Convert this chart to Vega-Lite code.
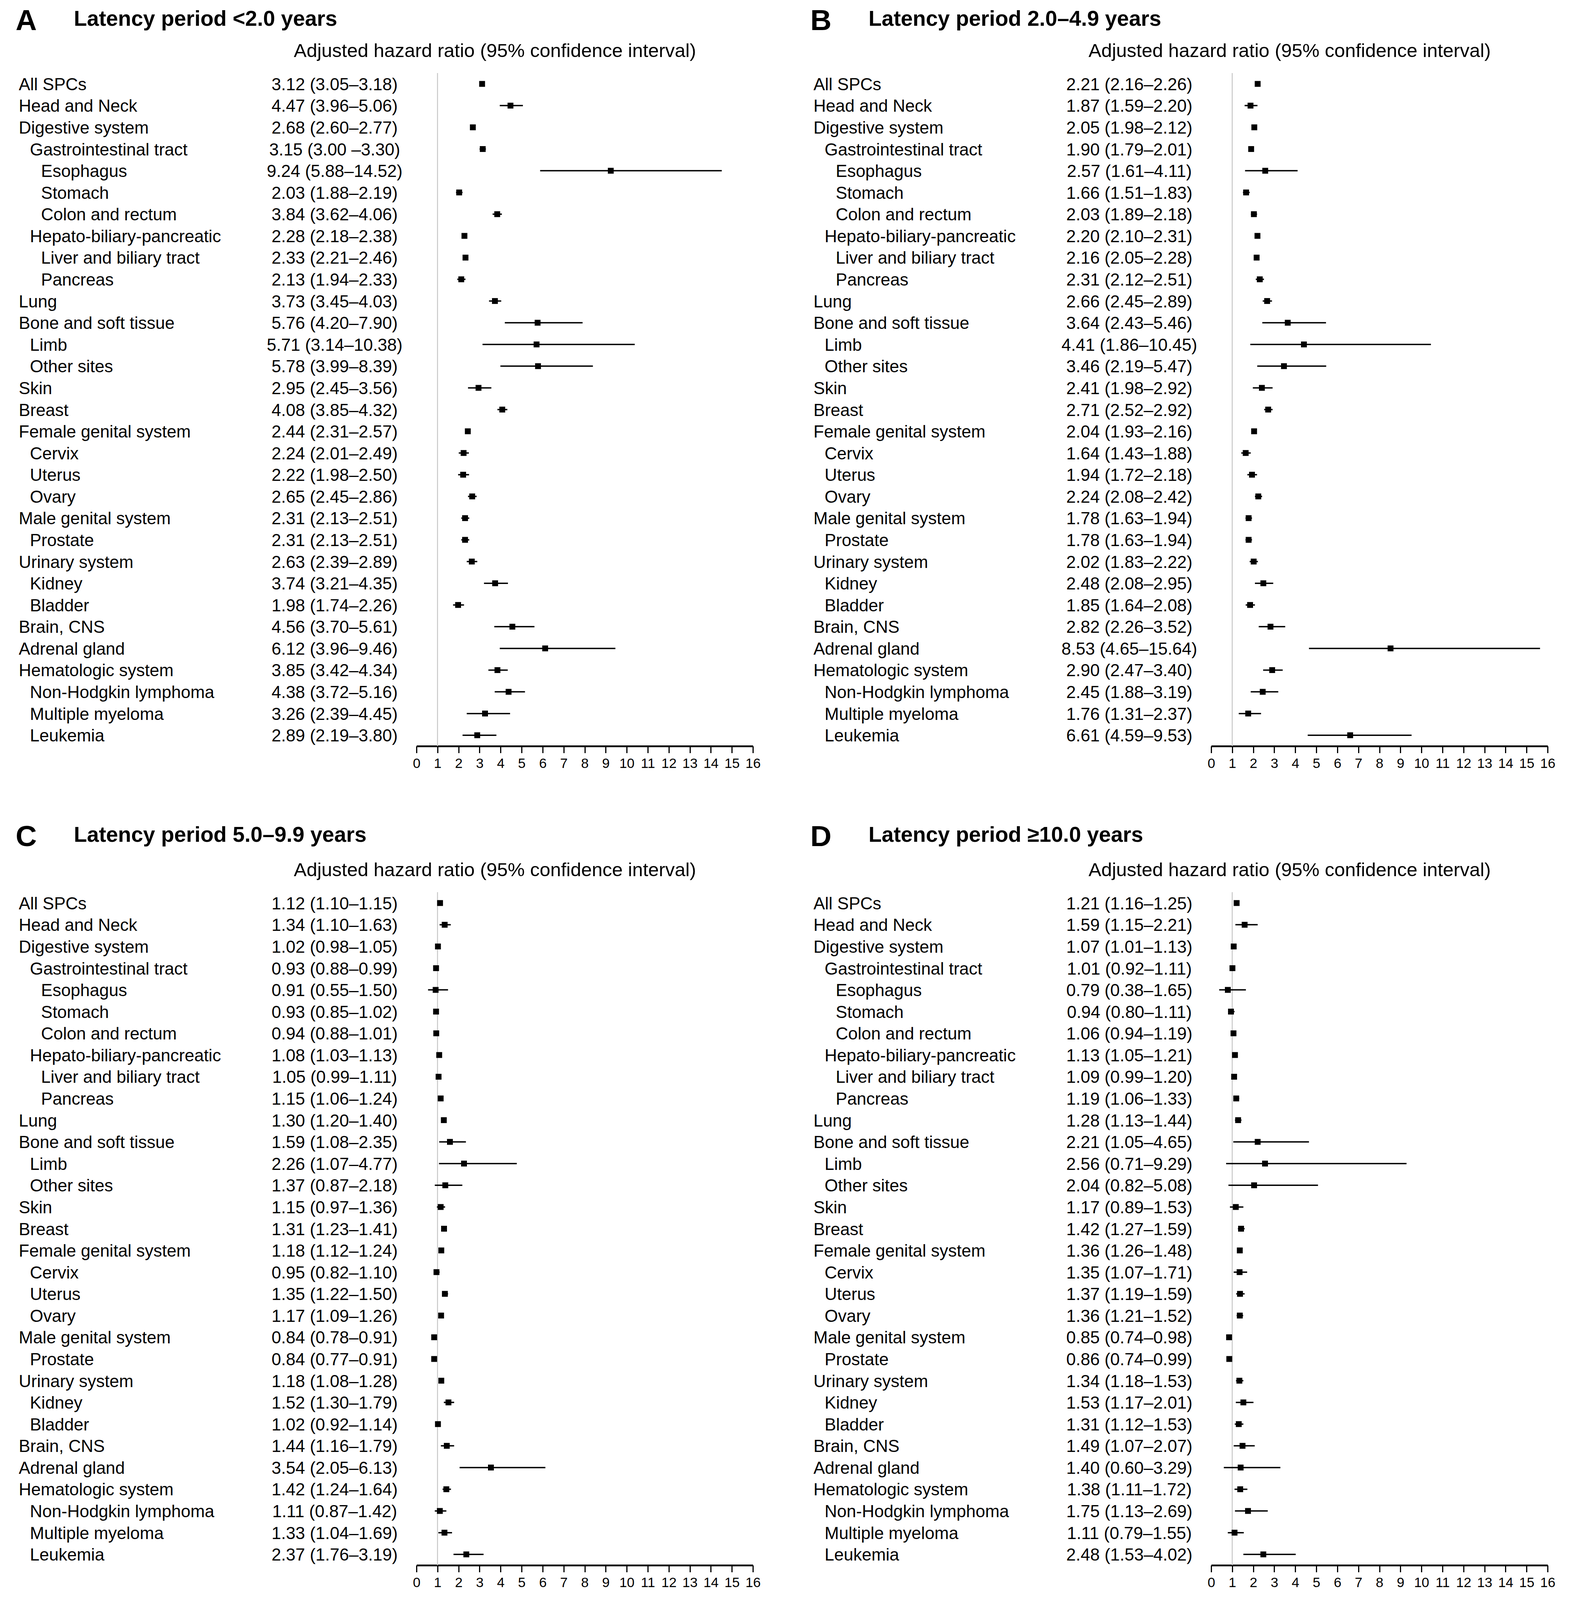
{
  "$schema": "https://vega.github.io/schema/vega-lite/v6.json",
  "background": "white",
  "padding": {"left": 40, "top": 17, "right": 10, "bottom": 10},
  "config": {
    "view": {"stroke": null},
    "font": "Liberation Sans",
    "title": {"color": "black", "font": "Liberation Sans"},
    "text": {"color": "black", "font": "Liberation Sans"},
    "axis": {"values": [0,1,2,3,4,5,6,7,8,9,10,11,12,13,14,15,16], "title": null, "grid": false, "tickSize": 17.5, "tickWidth": 3, "tickColor": "black", "domainColor": "black", "domainWidth": 4.5, "labelFontSize": 35, "labelColor": "black", "labelPadding": 10, "labelFlush": false, "labelOverlap": false, "format": "d"}
  },
  "datasets": {
    "rows": [
      {"row": 1, "label": "All SPCs", "level": 0},
      {"row": 2, "label": "Head and Neck", "level": 0},
      {"row": 3, "label": "Digestive system", "level": 0},
      {"row": 4, "label": "Gastrointestinal tract", "level": 1},
      {"row": 5, "label": "Esophagus", "level": 2},
      {"row": 6, "label": "Stomach", "level": 2},
      {"row": 7, "label": "Colon and rectum", "level": 2},
      {"row": 8, "label": "Hepato-biliary-pancreatic", "level": 1},
      {"row": 9, "label": "Liver and biliary tract", "level": 2},
      {"row": 10, "label": "Pancreas", "level": 2},
      {"row": 11, "label": "Lung", "level": 0},
      {"row": 12, "label": "Bone and soft tissue", "level": 0},
      {"row": 13, "label": "Limb", "level": 1},
      {"row": 14, "label": "Other sites", "level": 1},
      {"row": 15, "label": "Skin", "level": 0},
      {"row": 16, "label": "Breast", "level": 0},
      {"row": 17, "label": "Female genital system", "level": 0},
      {"row": 18, "label": "Cervix", "level": 1},
      {"row": 19, "label": "Uterus", "level": 1},
      {"row": 20, "label": "Ovary", "level": 1},
      {"row": 21, "label": "Male genital system", "level": 0},
      {"row": 22, "label": "Prostate", "level": 1},
      {"row": 23, "label": "Urinary system", "level": 0},
      {"row": 24, "label": "Kidney", "level": 1},
      {"row": 25, "label": "Bladder", "level": 1},
      {"row": 26, "label": "Brain, CNS", "level": 0},
      {"row": 27, "label": "Adrenal gland", "level": 0},
      {"row": 28, "label": "Hematologic system", "level": 0},
      {"row": 29, "label": "Non-Hodgkin lymphoma", "level": 1},
      {"row": 30, "label": "Multiple myeloma", "level": 1},
      {"row": 31, "label": "Leukemia", "level": 1}
    ],
    "ref": [{"ref": 1}],
    "A": [
      {"row": 1, "hr": 3.12, "lo": 3.05, "hi": 3.18, "ci": "3.12 (3.05–3.18)"},
      {"row": 2, "hr": 4.47, "lo": 3.96, "hi": 5.06, "ci": "4.47 (3.96–5.06)"},
      {"row": 3, "hr": 2.68, "lo": 2.60, "hi": 2.77, "ci": "2.68 (2.60–2.77)"},
      {"row": 4, "hr": 3.15, "lo": 3.00, "hi": 3.30, "ci": "3.15 (3.00 –3.30)"},
      {"row": 5, "hr": 9.24, "lo": 5.88, "hi": 14.52, "ci": "9.24 (5.88–14.52)"},
      {"row": 6, "hr": 2.03, "lo": 1.88, "hi": 2.19, "ci": "2.03 (1.88–2.19)"},
      {"row": 7, "hr": 3.84, "lo": 3.62, "hi": 4.06, "ci": "3.84 (3.62–4.06)"},
      {"row": 8, "hr": 2.28, "lo": 2.18, "hi": 2.38, "ci": "2.28 (2.18–2.38)"},
      {"row": 9, "hr": 2.33, "lo": 2.21, "hi": 2.46, "ci": "2.33 (2.21–2.46)"},
      {"row": 10, "hr": 2.13, "lo": 1.94, "hi": 2.33, "ci": "2.13 (1.94–2.33)"},
      {"row": 11, "hr": 3.73, "lo": 3.45, "hi": 4.03, "ci": "3.73 (3.45–4.03)"},
      {"row": 12, "hr": 5.76, "lo": 4.20, "hi": 7.90, "ci": "5.76 (4.20–7.90)"},
      {"row": 13, "hr": 5.71, "lo": 3.14, "hi": 10.38, "ci": "5.71 (3.14–10.38)"},
      {"row": 14, "hr": 5.78, "lo": 3.99, "hi": 8.39, "ci": "5.78 (3.99–8.39)"},
      {"row": 15, "hr": 2.95, "lo": 2.45, "hi": 3.56, "ci": "2.95 (2.45–3.56)"},
      {"row": 16, "hr": 4.08, "lo": 3.85, "hi": 4.32, "ci": "4.08 (3.85–4.32)"},
      {"row": 17, "hr": 2.44, "lo": 2.31, "hi": 2.57, "ci": "2.44 (2.31–2.57)"},
      {"row": 18, "hr": 2.24, "lo": 2.01, "hi": 2.49, "ci": "2.24 (2.01–2.49)"},
      {"row": 19, "hr": 2.22, "lo": 1.98, "hi": 2.50, "ci": "2.22 (1.98–2.50)"},
      {"row": 20, "hr": 2.65, "lo": 2.45, "hi": 2.86, "ci": "2.65 (2.45–2.86)"},
      {"row": 21, "hr": 2.31, "lo": 2.13, "hi": 2.51, "ci": "2.31 (2.13–2.51)"},
      {"row": 22, "hr": 2.31, "lo": 2.13, "hi": 2.51, "ci": "2.31 (2.13–2.51)"},
      {"row": 23, "hr": 2.63, "lo": 2.39, "hi": 2.89, "ci": "2.63 (2.39–2.89)"},
      {"row": 24, "hr": 3.74, "lo": 3.21, "hi": 4.35, "ci": "3.74 (3.21–4.35)"},
      {"row": 25, "hr": 1.98, "lo": 1.74, "hi": 2.26, "ci": "1.98 (1.74–2.26)"},
      {"row": 26, "hr": 4.56, "lo": 3.70, "hi": 5.61, "ci": "4.56 (3.70–5.61)"},
      {"row": 27, "hr": 6.12, "lo": 3.96, "hi": 9.46, "ci": "6.12 (3.96–9.46)"},
      {"row": 28, "hr": 3.85, "lo": 3.42, "hi": 4.34, "ci": "3.85 (3.42–4.34)"},
      {"row": 29, "hr": 4.38, "lo": 3.72, "hi": 5.16, "ci": "4.38 (3.72–5.16)"},
      {"row": 30, "hr": 3.26, "lo": 2.39, "hi": 4.45, "ci": "3.26 (2.39–4.45)"},
      {"row": 31, "hr": 2.89, "lo": 2.19, "hi": 3.80, "ci": "2.89 (2.19–3.80)"}
    ],
    "B": [
      {"row": 1, "hr": 2.21, "lo": 2.16, "hi": 2.26, "ci": "2.21 (2.16–2.26)"},
      {"row": 2, "hr": 1.87, "lo": 1.59, "hi": 2.20, "ci": "1.87 (1.59–2.20)"},
      {"row": 3, "hr": 2.05, "lo": 1.98, "hi": 2.12, "ci": "2.05 (1.98–2.12)"},
      {"row": 4, "hr": 1.90, "lo": 1.79, "hi": 2.01, "ci": "1.90 (1.79–2.01)"},
      {"row": 5, "hr": 2.57, "lo": 1.61, "hi": 4.11, "ci": "2.57 (1.61–4.11)"},
      {"row": 6, "hr": 1.66, "lo": 1.51, "hi": 1.83, "ci": "1.66 (1.51–1.83)"},
      {"row": 7, "hr": 2.03, "lo": 1.89, "hi": 2.18, "ci": "2.03 (1.89–2.18)"},
      {"row": 8, "hr": 2.20, "lo": 2.10, "hi": 2.31, "ci": "2.20 (2.10–2.31)"},
      {"row": 9, "hr": 2.16, "lo": 2.05, "hi": 2.28, "ci": "2.16 (2.05–2.28)"},
      {"row": 10, "hr": 2.31, "lo": 2.12, "hi": 2.51, "ci": "2.31 (2.12–2.51)"},
      {"row": 11, "hr": 2.66, "lo": 2.45, "hi": 2.89, "ci": "2.66 (2.45–2.89)"},
      {"row": 12, "hr": 3.64, "lo": 2.43, "hi": 5.46, "ci": "3.64 (2.43–5.46)"},
      {"row": 13, "hr": 4.41, "lo": 1.86, "hi": 10.45, "ci": "4.41 (1.86–10.45)"},
      {"row": 14, "hr": 3.46, "lo": 2.19, "hi": 5.47, "ci": "3.46 (2.19–5.47)"},
      {"row": 15, "hr": 2.41, "lo": 1.98, "hi": 2.92, "ci": "2.41 (1.98–2.92)"},
      {"row": 16, "hr": 2.71, "lo": 2.52, "hi": 2.92, "ci": "2.71 (2.52–2.92)"},
      {"row": 17, "hr": 2.04, "lo": 1.93, "hi": 2.16, "ci": "2.04 (1.93–2.16)"},
      {"row": 18, "hr": 1.64, "lo": 1.43, "hi": 1.88, "ci": "1.64 (1.43–1.88)"},
      {"row": 19, "hr": 1.94, "lo": 1.72, "hi": 2.18, "ci": "1.94 (1.72–2.18)"},
      {"row": 20, "hr": 2.24, "lo": 2.08, "hi": 2.42, "ci": "2.24 (2.08–2.42)"},
      {"row": 21, "hr": 1.78, "lo": 1.63, "hi": 1.94, "ci": "1.78 (1.63–1.94)"},
      {"row": 22, "hr": 1.78, "lo": 1.63, "hi": 1.94, "ci": "1.78 (1.63–1.94)"},
      {"row": 23, "hr": 2.02, "lo": 1.83, "hi": 2.22, "ci": "2.02 (1.83–2.22)"},
      {"row": 24, "hr": 2.48, "lo": 2.08, "hi": 2.95, "ci": "2.48 (2.08–2.95)"},
      {"row": 25, "hr": 1.85, "lo": 1.64, "hi": 2.08, "ci": "1.85 (1.64–2.08)"},
      {"row": 26, "hr": 2.82, "lo": 2.26, "hi": 3.52, "ci": "2.82 (2.26–3.52)"},
      {"row": 27, "hr": 8.53, "lo": 4.65, "hi": 15.64, "ci": "8.53 (4.65–15.64)"},
      {"row": 28, "hr": 2.90, "lo": 2.47, "hi": 3.40, "ci": "2.90 (2.47–3.40)"},
      {"row": 29, "hr": 2.45, "lo": 1.88, "hi": 3.19, "ci": "2.45 (1.88–3.19)"},
      {"row": 30, "hr": 1.76, "lo": 1.31, "hi": 2.37, "ci": "1.76 (1.31–2.37)"},
      {"row": 31, "hr": 6.61, "lo": 4.59, "hi": 9.53, "ci": "6.61 (4.59–9.53)"}
    ],
    "C": [
      {"row": 1, "hr": 1.12, "lo": 1.10, "hi": 1.15, "ci": "1.12 (1.10–1.15)"},
      {"row": 2, "hr": 1.34, "lo": 1.10, "hi": 1.63, "ci": "1.34 (1.10–1.63)"},
      {"row": 3, "hr": 1.02, "lo": 0.98, "hi": 1.05, "ci": "1.02 (0.98–1.05)"},
      {"row": 4, "hr": 0.93, "lo": 0.88, "hi": 0.99, "ci": "0.93 (0.88–0.99)"},
      {"row": 5, "hr": 0.91, "lo": 0.55, "hi": 1.50, "ci": "0.91 (0.55–1.50)"},
      {"row": 6, "hr": 0.93, "lo": 0.85, "hi": 1.02, "ci": "0.93 (0.85–1.02)"},
      {"row": 7, "hr": 0.94, "lo": 0.88, "hi": 1.01, "ci": "0.94 (0.88–1.01)"},
      {"row": 8, "hr": 1.08, "lo": 1.03, "hi": 1.13, "ci": "1.08 (1.03–1.13)"},
      {"row": 9, "hr": 1.05, "lo": 0.99, "hi": 1.11, "ci": "1.05 (0.99–1.11)"},
      {"row": 10, "hr": 1.15, "lo": 1.06, "hi": 1.24, "ci": "1.15 (1.06–1.24)"},
      {"row": 11, "hr": 1.30, "lo": 1.20, "hi": 1.40, "ci": "1.30 (1.20–1.40)"},
      {"row": 12, "hr": 1.59, "lo": 1.08, "hi": 2.35, "ci": "1.59 (1.08–2.35)"},
      {"row": 13, "hr": 2.26, "lo": 1.07, "hi": 4.77, "ci": "2.26 (1.07–4.77)"},
      {"row": 14, "hr": 1.37, "lo": 0.87, "hi": 2.18, "ci": "1.37 (0.87–2.18)"},
      {"row": 15, "hr": 1.15, "lo": 0.97, "hi": 1.36, "ci": "1.15 (0.97–1.36)"},
      {"row": 16, "hr": 1.31, "lo": 1.23, "hi": 1.41, "ci": "1.31 (1.23–1.41)"},
      {"row": 17, "hr": 1.18, "lo": 1.12, "hi": 1.24, "ci": "1.18 (1.12–1.24)"},
      {"row": 18, "hr": 0.95, "lo": 0.82, "hi": 1.10, "ci": "0.95 (0.82–1.10)"},
      {"row": 19, "hr": 1.35, "lo": 1.22, "hi": 1.50, "ci": "1.35 (1.22–1.50)"},
      {"row": 20, "hr": 1.17, "lo": 1.09, "hi": 1.26, "ci": "1.17 (1.09–1.26)"},
      {"row": 21, "hr": 0.84, "lo": 0.78, "hi": 0.91, "ci": "0.84 (0.78–0.91)"},
      {"row": 22, "hr": 0.84, "lo": 0.77, "hi": 0.91, "ci": "0.84 (0.77–0.91)"},
      {"row": 23, "hr": 1.18, "lo": 1.08, "hi": 1.28, "ci": "1.18 (1.08–1.28)"},
      {"row": 24, "hr": 1.52, "lo": 1.30, "hi": 1.79, "ci": "1.52 (1.30–1.79)"},
      {"row": 25, "hr": 1.02, "lo": 0.92, "hi": 1.14, "ci": "1.02 (0.92–1.14)"},
      {"row": 26, "hr": 1.44, "lo": 1.16, "hi": 1.79, "ci": "1.44 (1.16–1.79)"},
      {"row": 27, "hr": 3.54, "lo": 2.05, "hi": 6.13, "ci": "3.54 (2.05–6.13)"},
      {"row": 28, "hr": 1.42, "lo": 1.24, "hi": 1.64, "ci": "1.42 (1.24–1.64)"},
      {"row": 29, "hr": 1.11, "lo": 0.87, "hi": 1.42, "ci": "1.11 (0.87–1.42)"},
      {"row": 30, "hr": 1.33, "lo": 1.04, "hi": 1.69, "ci": "1.33 (1.04–1.69)"},
      {"row": 31, "hr": 2.37, "lo": 1.76, "hi": 3.19, "ci": "2.37 (1.76–3.19)"}
    ],
    "D": [
      {"row": 1, "hr": 1.21, "lo": 1.16, "hi": 1.25, "ci": "1.21 (1.16–1.25)"},
      {"row": 2, "hr": 1.59, "lo": 1.15, "hi": 2.21, "ci": "1.59 (1.15–2.21)"},
      {"row": 3, "hr": 1.07, "lo": 1.01, "hi": 1.13, "ci": "1.07 (1.01–1.13)"},
      {"row": 4, "hr": 1.01, "lo": 0.92, "hi": 1.11, "ci": "1.01 (0.92–1.11)"},
      {"row": 5, "hr": 0.79, "lo": 0.38, "hi": 1.65, "ci": "0.79 (0.38–1.65)"},
      {"row": 6, "hr": 0.94, "lo": 0.80, "hi": 1.11, "ci": "0.94 (0.80–1.11)"},
      {"row": 7, "hr": 1.06, "lo": 0.94, "hi": 1.19, "ci": "1.06 (0.94–1.19)"},
      {"row": 8, "hr": 1.13, "lo": 1.05, "hi": 1.21, "ci": "1.13 (1.05–1.21)"},
      {"row": 9, "hr": 1.09, "lo": 0.99, "hi": 1.20, "ci": "1.09 (0.99–1.20)"},
      {"row": 10, "hr": 1.19, "lo": 1.06, "hi": 1.33, "ci": "1.19 (1.06–1.33)"},
      {"row": 11, "hr": 1.28, "lo": 1.13, "hi": 1.44, "ci": "1.28 (1.13–1.44)"},
      {"row": 12, "hr": 2.21, "lo": 1.05, "hi": 4.65, "ci": "2.21 (1.05–4.65)"},
      {"row": 13, "hr": 2.56, "lo": 0.71, "hi": 9.29, "ci": "2.56 (0.71–9.29)"},
      {"row": 14, "hr": 2.04, "lo": 0.82, "hi": 5.08, "ci": "2.04 (0.82–5.08)"},
      {"row": 15, "hr": 1.17, "lo": 0.89, "hi": 1.53, "ci": "1.17 (0.89–1.53)"},
      {"row": 16, "hr": 1.42, "lo": 1.27, "hi": 1.59, "ci": "1.42 (1.27–1.59)"},
      {"row": 17, "hr": 1.36, "lo": 1.26, "hi": 1.48, "ci": "1.36 (1.26–1.48)"},
      {"row": 18, "hr": 1.35, "lo": 1.07, "hi": 1.71, "ci": "1.35 (1.07–1.71)"},
      {"row": 19, "hr": 1.37, "lo": 1.19, "hi": 1.59, "ci": "1.37 (1.19–1.59)"},
      {"row": 20, "hr": 1.36, "lo": 1.21, "hi": 1.52, "ci": "1.36 (1.21–1.52)"},
      {"row": 21, "hr": 0.85, "lo": 0.74, "hi": 0.98, "ci": "0.85 (0.74–0.98)"},
      {"row": 22, "hr": 0.86, "lo": 0.74, "hi": 0.99, "ci": "0.86 (0.74–0.99)"},
      {"row": 23, "hr": 1.34, "lo": 1.18, "hi": 1.53, "ci": "1.34 (1.18–1.53)"},
      {"row": 24, "hr": 1.53, "lo": 1.17, "hi": 2.01, "ci": "1.53 (1.17–2.01)"},
      {"row": 25, "hr": 1.31, "lo": 1.12, "hi": 1.53, "ci": "1.31 (1.12–1.53)"},
      {"row": 26, "hr": 1.49, "lo": 1.07, "hi": 2.07, "ci": "1.49 (1.07–2.07)"},
      {"row": 27, "hr": 1.40, "lo": 0.60, "hi": 3.29, "ci": "1.40 (0.60–3.29)"},
      {"row": 28, "hr": 1.38, "lo": 1.11, "hi": 1.72, "ci": "1.38 (1.11–1.72)"},
      {"row": 29, "hr": 1.75, "lo": 1.13, "hi": 2.69, "ci": "1.75 (1.13–2.69)"},
      {"row": 30, "hr": 1.11, "lo": 0.79, "hi": 1.55, "ci": "1.11 (0.79–1.55)"},
      {"row": 31, "hr": 2.48, "lo": 1.53, "hi": 4.02, "ci": "2.48 (1.53–4.02)"}
    ]
  },
  "columns": 6,
  "align": "each",
  "bounds": "flush",
  "spacing": {"row": 374, "column": 155},
  "concat": [
    {
      "width": 599, "height": 1723,
      "data": {"name": "rows"},
      "title": {"text": "A", "fontSize": 75, "fontWeight": "bold", "anchor": "start", "frame": "group", "dx": -8, "offset": 94},
      "mark": {"type": "text", "align": "left", "baseline": "middle", "fontSize": 44, "dy": 3},
      "encoding": {
        "x": {"field": "level", "type": "quantitative", "scale": {"domain": [0, 21], "nice": false, "zero": false}, "axis": null},
        "y": {"field": "row", "type": "ordinal", "axis": null},
        "text": {"field": "label"}
      }
    },
    {
      "width": 109, "height": 1723,
      "data": {"name": "A"},
      "title": {"text": "Latency period <2.0 years", "fontSize": 55, "fontWeight": "bold", "anchor": "start", "frame": "group", "dx": -613, "offset": 109.5},
      "mark": {"type": "text", "align": "center", "baseline": "middle", "fontSize": 44, "dy": 3},
      "encoding": {"y": {"field": "row", "type": "ordinal", "axis": null}, "text": {"field": "ci"}}
    },
    {
      "width": 861, "height": 1723,
      "title": {"text": "Adjusted hazard ratio (95% confidence interval)", "fontSize": 49, "fontWeight": "normal", "anchor": "start", "frame": "group", "dx": -314, "offset": 30},
      "layer": [
        {"data": {"name": "ref"}, "mark": {"type": "rule", "color": "#c8c8c8", "strokeWidth": 2.5}, "encoding": {"x": {"field": "ref", "type": "quantitative"}}},
        {"data": {"name": "A"}, "mark": {"type": "rule", "color": "black", "strokeWidth": 3.5}, "encoding": {"x": {"field": "lo", "type": "quantitative"}, "x2": {"field": "hi"}, "y": {"field": "row", "type": "ordinal", "axis": null}}},
        {"data": {"name": "A"}, "mark": {"type": "square", "size": 225, "filled": true, "color": "black", "opacity": 1}, "encoding": {"x": {"field": "hr", "type": "quantitative"}, "y": {"field": "row", "type": "ordinal", "axis": null}}}
      ],
      "encoding": {"x": {"type": "quantitative", "scale": {"domain": [0, 16], "nice": false, "zero": false}}}
    },
    {
      "width": 599, "height": 1723,
      "data": {"name": "rows"},
      "title": {"text": "B", "fontSize": 75, "fontWeight": "bold", "anchor": "start", "frame": "group", "dx": -8, "offset": 94},
      "mark": {"type": "text", "align": "left", "baseline": "middle", "fontSize": 44, "dy": 3},
      "encoding": {
        "x": {"field": "level", "type": "quantitative", "scale": {"domain": [0, 21], "nice": false, "zero": false}, "axis": null},
        "y": {"field": "row", "type": "ordinal", "axis": null},
        "text": {"field": "label"}
      }
    },
    {
      "width": 109, "height": 1723,
      "data": {"name": "B"},
      "title": {"text": "Latency period 2.0–4.9 years", "fontSize": 55, "fontWeight": "bold", "anchor": "start", "frame": "group", "dx": -613, "offset": 109.5},
      "mark": {"type": "text", "align": "center", "baseline": "middle", "fontSize": 44, "dy": 3},
      "encoding": {"y": {"field": "row", "type": "ordinal", "axis": null}, "text": {"field": "ci"}}
    },
    {
      "width": 861, "height": 1723,
      "title": {"text": "Adjusted hazard ratio (95% confidence interval)", "fontSize": 49, "fontWeight": "normal", "anchor": "start", "frame": "group", "dx": -314, "offset": 30},
      "layer": [
        {"data": {"name": "ref"}, "mark": {"type": "rule", "color": "#c8c8c8", "strokeWidth": 2.5}, "encoding": {"x": {"field": "ref", "type": "quantitative"}}},
        {"data": {"name": "B"}, "mark": {"type": "rule", "color": "black", "strokeWidth": 3.5}, "encoding": {"x": {"field": "lo", "type": "quantitative"}, "x2": {"field": "hi"}, "y": {"field": "row", "type": "ordinal", "axis": null}}},
        {"data": {"name": "B"}, "mark": {"type": "square", "size": 225, "filled": true, "color": "black", "opacity": 1}, "encoding": {"x": {"field": "hr", "type": "quantitative"}, "y": {"field": "row", "type": "ordinal", "axis": null}}}
      ],
      "encoding": {"x": {"type": "quantitative", "scale": {"domain": [0, 16], "nice": false, "zero": false}}}
    },
    {
      "width": 599, "height": 1723,
      "data": {"name": "rows"},
      "title": {"text": "C", "fontSize": 75, "fontWeight": "bold", "anchor": "start", "frame": "group", "dx": -8, "offset": 102},
      "mark": {"type": "text", "align": "left", "baseline": "middle", "fontSize": 44, "dy": 3},
      "encoding": {
        "x": {"field": "level", "type": "quantitative", "scale": {"domain": [0, 21], "nice": false, "zero": false}, "axis": null},
        "y": {"field": "row", "type": "ordinal", "axis": null},
        "text": {"field": "label"}
      }
    },
    {
      "width": 109, "height": 1723,
      "data": {"name": "C"},
      "title": {"text": "Latency period 5.0–9.9 years", "fontSize": 55, "fontWeight": "bold", "anchor": "start", "frame": "group", "dx": -613, "offset": 117.5},
      "mark": {"type": "text", "align": "center", "baseline": "middle", "fontSize": 44, "dy": 3},
      "encoding": {"y": {"field": "row", "type": "ordinal", "axis": null}, "text": {"field": "ci"}}
    },
    {
      "width": 861, "height": 1723,
      "title": {"text": "Adjusted hazard ratio (95% confidence interval)", "fontSize": 49, "fontWeight": "normal", "anchor": "start", "frame": "group", "dx": -314, "offset": 30},
      "layer": [
        {"data": {"name": "ref"}, "mark": {"type": "rule", "color": "#c8c8c8", "strokeWidth": 2.5}, "encoding": {"x": {"field": "ref", "type": "quantitative"}}},
        {"data": {"name": "C"}, "mark": {"type": "rule", "color": "black", "strokeWidth": 3.5}, "encoding": {"x": {"field": "lo", "type": "quantitative"}, "x2": {"field": "hi"}, "y": {"field": "row", "type": "ordinal", "axis": null}}},
        {"data": {"name": "C"}, "mark": {"type": "square", "size": 225, "filled": true, "color": "black", "opacity": 1}, "encoding": {"x": {"field": "hr", "type": "quantitative"}, "y": {"field": "row", "type": "ordinal", "axis": null}}}
      ],
      "encoding": {"x": {"type": "quantitative", "scale": {"domain": [0, 16], "nice": false, "zero": false}}}
    },
    {
      "width": 599, "height": 1723,
      "data": {"name": "rows"},
      "title": {"text": "D", "fontSize": 75, "fontWeight": "bold", "anchor": "start", "frame": "group", "dx": -8, "offset": 102},
      "mark": {"type": "text", "align": "left", "baseline": "middle", "fontSize": 44, "dy": 3},
      "encoding": {
        "x": {"field": "level", "type": "quantitative", "scale": {"domain": [0, 21], "nice": false, "zero": false}, "axis": null},
        "y": {"field": "row", "type": "ordinal", "axis": null},
        "text": {"field": "label"}
      }
    },
    {
      "width": 109, "height": 1723,
      "data": {"name": "D"},
      "title": {"text": "Latency period ≥10.0 years", "fontSize": 55, "fontWeight": "bold", "anchor": "start", "frame": "group", "dx": -613, "offset": 117.5},
      "mark": {"type": "text", "align": "center", "baseline": "middle", "fontSize": 44, "dy": 3},
      "encoding": {"y": {"field": "row", "type": "ordinal", "axis": null}, "text": {"field": "ci"}}
    },
    {
      "width": 861, "height": 1723,
      "title": {"text": "Adjusted hazard ratio (95% confidence interval)", "fontSize": 49, "fontWeight": "normal", "anchor": "start", "frame": "group", "dx": -314, "offset": 30},
      "layer": [
        {"data": {"name": "ref"}, "mark": {"type": "rule", "color": "#c8c8c8", "strokeWidth": 2.5}, "encoding": {"x": {"field": "ref", "type": "quantitative"}}},
        {"data": {"name": "D"}, "mark": {"type": "rule", "color": "black", "strokeWidth": 3.5}, "encoding": {"x": {"field": "lo", "type": "quantitative"}, "x2": {"field": "hi"}, "y": {"field": "row", "type": "ordinal", "axis": null}}},
        {"data": {"name": "D"}, "mark": {"type": "square", "size": 225, "filled": true, "color": "black", "opacity": 1}, "encoding": {"x": {"field": "hr", "type": "quantitative"}, "y": {"field": "row", "type": "ordinal", "axis": null}}}
      ],
      "encoding": {"x": {"type": "quantitative", "scale": {"domain": [0, 16], "nice": false, "zero": false}}}
    }
  ]
}
